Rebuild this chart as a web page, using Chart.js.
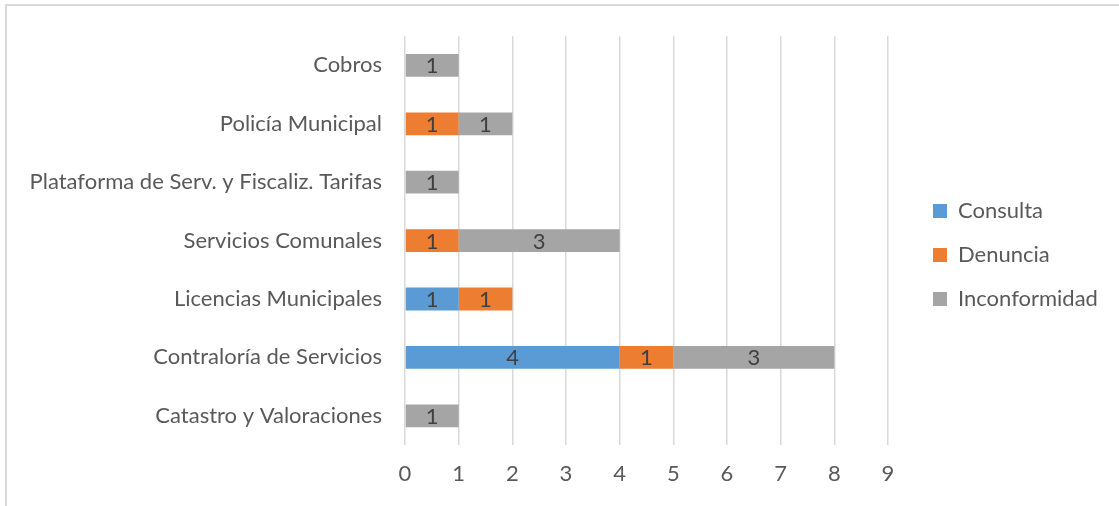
<!DOCTYPE html>
<html lang="es">
<head>
  <meta charset="UTF-8" />
  <title>Gestiones por área</title>
  <script src="https://cdn.jsdelivr.net/npm/chart.js"></script>
  <style>
    html, body {
      margin: 0;
      padding: 0;
      background-color: #fff;
      overflow: hidden;
    }

    .frame {
      position: absolute;
      left: 5px;
      top: 4px;
      width: 1300px;
      height: 700px;
      border: 2px solid #d9d9d9;
    }

    .wrap {
      position: absolute;
      left: 0;
      top: 0;
      width: 1119px;
      height: 506px;
    }
  </style>
</head>
<body>
  <div class="frame"></div>
  <div class="wrap"><canvas id="chart"></canvas></div>

  <script>
    const categories = [
      'Cobros',
      'Policía Municipal',
      'Plataforma de Serv. y Fiscaliz. Tarifas',
      'Servicios Comunales',
      'Licencias Municipales',
      'Contraloría de Servicios',
      'Catastro y Valoraciones'
    ];
    const consulta      = [0, 0, 0, 0, 1, 4, 0];
    const denuncia      = [0, 1, 0, 1, 1, 1, 0];
    const inconformidad = [1, 1, 1, 3, 0, 3, 1];
    const xMin = 0;
    const xMax = 9;

    const FONT = 'Lato';
    const TEXT = '#595959';

    // numbers in the middle of each segment
    const barLabels = {
      id: 'barLabels',
      afterDatasetsDraw(chart) {
        const ctx = chart.ctx;
        ctx.save();
        ctx.font = `22px ${FONT}`;
        ctx.fillStyle = '#404040';
        ctx.textAlign = 'center';
        ctx.textBaseline = 'middle';
        chart.data.datasets.forEach((ds, i) => {
          chart.getDatasetMeta(i).data.forEach((bar, j) => {
            const v = ds.data[j];
            if (!v) return;
            const { x, y, base } = bar.getProps(['x', 'y', 'base'], true);
            ctx.fillText(v, (x + base) / 2, y + 1);
          });
        });
        ctx.restore();
      }
    };

    // legend sits further right than Chart.js would put it
    const legendPlace = {
      id: 'legendPlace',
      afterInit(chart) {
        const legend = chart.legend;
        if (!legend) return;
        const fit = legend.fit;
        legend.fit = function () {
          fit.call(this);
          this.width = 231;
        };
      },
      afterLayout(chart) {
        const legend = chart.legend;
        const pad = chart.options.plugins.legend.labels.padding;
        legend.left = 933 - pad;
        legend.right = 1119;
        legend.top = 4;
        legend.bottom = 506;
      }
    };

    new Chart(document.getElementById('chart'), {
      type: 'bar',
      data: {
        labels: categories,
        datasets: [
          { label: 'Consulta', data: consulta, backgroundColor: '#5B9BD5' },
          { label: 'Denuncia', data: denuncia, backgroundColor: '#ED7D31' },
          { label: 'Inconformidad', data: inconformidad, backgroundColor: '#A5A5A5' }
        ]
      },
      options: {
        indexAxis: 'y',
        responsive: true,
        maintainAspectRatio: false,
        animation: false,
        categoryPercentage: 1,
        barPercentage: 0.39,
        layout: { padding: { top: 33, left: 0, right: 0, bottom: 0 } },
        scales: {
          x: {
            stacked: true,
            min: xMin,
            max: xMax,
            ticks: {
              stepSize: 1,
              padding: 16,
              color: TEXT,
              font: { family: FONT, size: 22 }
            },
            grid: { color: '#d9d9d9', lineWidth: 1.5, drawTicks: false },
            border: { display: false },
            afterFit(scale) { scale.height = 61; }
          },
          y: {
            stacked: true,
            ticks: {
              padding: 23,
              color: TEXT,
              font: { family: FONT, size: 22 }
            },
            grid: { display: false, drawTicks: false },
            border: { display: false },
            afterFit(scale) { scale.width = 405; }
          }
        },
        plugins: {
          legend: {
            position: 'right',
            labels: {
              boxWidth: 14,
              boxHeight: 14,
              padding: 22,
              color: TEXT,
              font: { family: FONT, size: 22 }
            }
          },
          tooltip: { enabled: false }
        }
      },
      plugins: [barLabels, legendPlace]
    });
  </script>
</body>
</html>
